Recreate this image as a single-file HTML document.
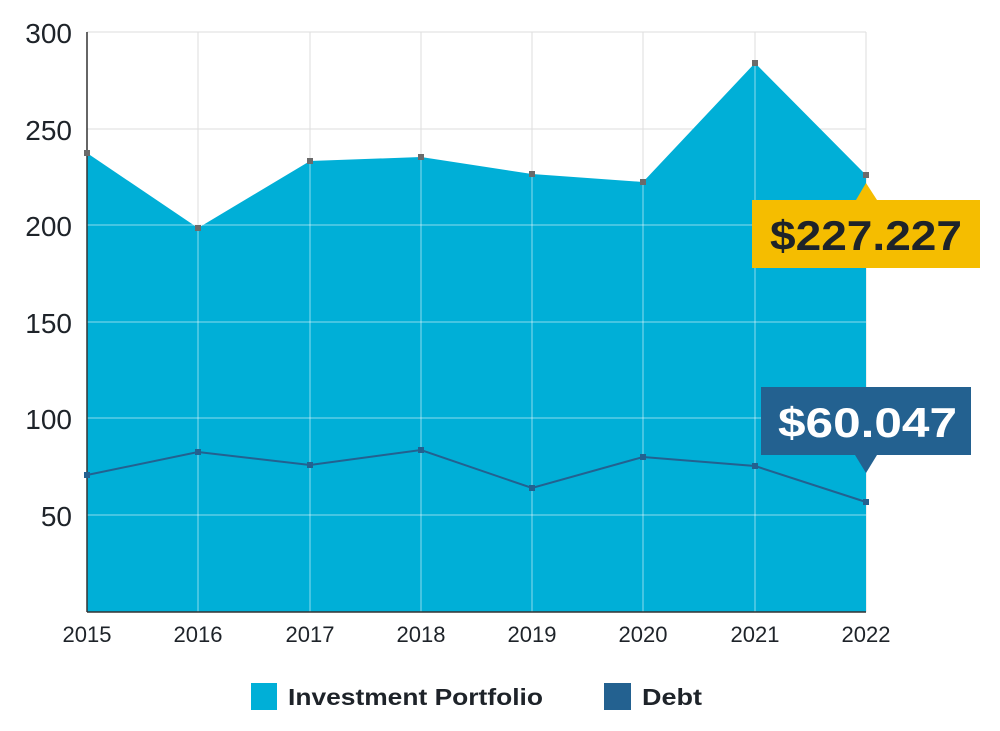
<!DOCTYPE html>
<html><head><style>
body{margin:0;background:#fff;}
svg{display:block;font-family:"Liberation Sans",sans-serif;}
</style></head><body>
<svg width="1000" height="731" viewBox="0 0 1000 731">
<rect width="1000" height="731" fill="#fff"/>
<g stroke="#dddddd" stroke-width="1">
<line x1="87" y1="32" x2="866" y2="32"/><line x1="87" y1="129" x2="866" y2="129"/>
<line x1="87" y1="225" x2="866" y2="225"/><line x1="87" y1="322" x2="866" y2="322"/>
<line x1="87" y1="418" x2="866" y2="418"/><line x1="87" y1="515" x2="866" y2="515"/>
<line x1="198" y1="32" x2="198" y2="612"/><line x1="310" y1="32" x2="310" y2="612"/>
<line x1="421" y1="32" x2="421" y2="612"/><line x1="532" y1="32" x2="532" y2="612"/>
<line x1="643" y1="32" x2="643" y2="612"/><line x1="755" y1="32" x2="755" y2="612"/>
<line x1="866" y1="32" x2="866" y2="612"/>
</g>
<polygon fill="#00afd7" points="87,153 198,228 310,161 421,157 532,174 643,182 755,63 866,175 866,612 87,612"/>
<g stroke="#ffffff" stroke-opacity="0.55" stroke-width="1">
<line x1="87" y1="225" x2="866" y2="225"/><line x1="87" y1="322" x2="866" y2="322"/>
<line x1="87" y1="418" x2="866" y2="418"/><line x1="87" y1="515" x2="866" y2="515"/>
<line x1="198" y1="228" x2="198" y2="612"/><line x1="310" y1="161" x2="310" y2="612"/>
<line x1="421" y1="157" x2="421" y2="612"/><line x1="532" y1="174" x2="532" y2="612"/>
<line x1="643" y1="182" x2="643" y2="612"/><line x1="755" y1="63" x2="755" y2="612"/>
</g>
<line x1="87" y1="32" x2="87" y2="612" stroke="#333" stroke-width="1.5"/>
<line x1="87" y1="612" x2="866" y2="612" stroke="#333" stroke-width="1.5"/>
<polyline fill="none" stroke="#236190" stroke-width="2" points="87,475 198,452 310,465 421,450 532,488 643,457 755,466 866,502"/>
<g fill="#236190">
<rect x="84" y="472" width="6" height="6"/><rect x="195" y="449" width="6" height="6"/><rect x="307" y="462" width="6" height="6"/><rect x="418" y="447" width="6" height="6"/><rect x="529" y="485" width="6" height="6"/><rect x="640" y="454" width="6" height="6"/><rect x="752" y="463" width="6" height="6"/><rect x="863" y="499" width="6" height="6"/>
</g>
<g fill="#6b6b6b">
<rect x="84" y="150" width="6" height="6"/><rect x="195" y="225" width="6" height="6"/><rect x="307" y="158" width="6" height="6"/><rect x="418" y="154" width="6" height="6"/><rect x="529" y="171" width="6" height="6"/><rect x="640" y="179" width="6" height="6"/><rect x="752" y="60" width="6" height="6"/><rect x="863" y="172" width="6" height="6"/>
</g>
<g font-size="28" fill="#1e2329" text-anchor="end">
<text x="72" y="43">300</text><text x="72" y="140">250</text><text x="72" y="236">200</text>
<text x="72" y="333">150</text><text x="72" y="429">100</text><text x="72" y="526">50</text>
</g>
<g font-size="22" fill="#1e2329" text-anchor="middle">
<text x="87" y="642">2015</text><text x="198" y="642">2016</text><text x="310" y="642">2017</text><text x="421" y="642">2018</text><text x="532" y="642">2019</text><text x="643" y="642">2020</text><text x="755" y="642">2021</text><text x="866" y="642">2022</text>
</g>
<polygon fill="#f5bd00" points="856,200 866,183 877,200"/>
<rect x="752" y="200" width="228" height="68" fill="#f5bd00"/>
<text x="770" y="250" font-size="42" font-weight="bold" fill="#1e2329" textLength="192" lengthAdjust="spacingAndGlyphs">$227.227</text>
<polygon fill="#236190" points="855,455 866,473 877,455"/>
<rect x="761" y="387" width="210" height="68" fill="#236190"/>
<text x="778" y="437" font-size="42" font-weight="bold" fill="#fff" textLength="179" lengthAdjust="spacingAndGlyphs">$60.047</text>
<rect x="251" y="683" width="26" height="27" fill="#00afd7"/>
<text x="288" y="705" font-size="23" font-weight="bold" fill="#1e2329" textLength="255" lengthAdjust="spacingAndGlyphs">Investment Portfolio</text>
<rect x="604" y="683" width="27" height="27" fill="#236190"/>
<text x="642" y="705" font-size="23" font-weight="bold" fill="#1e2329" textLength="60" lengthAdjust="spacingAndGlyphs">Debt</text>
</svg>
</body></html>
